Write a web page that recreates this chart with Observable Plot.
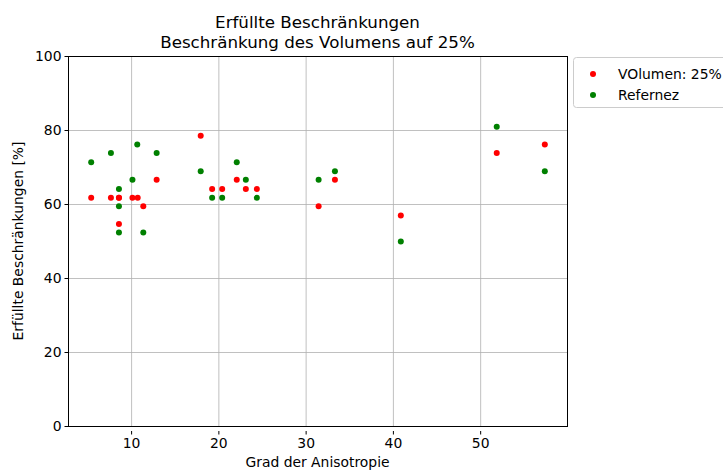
<!DOCTYPE html>
<html>
<head>
<meta charset="utf-8">
<script src="https://cdn.jsdelivr.net/npm/d3@7"></script>
<script src="https://cdn.jsdelivr.net/npm/@observablehq/plot@0.6"></script>
<style>
  html, body { margin: 0; padding: 0; background: #fff; }
  svg { display: block; }
</style>
</head>
<body>
<div id="chart"></div>
<script>
const titleLines = ["Erfüllte Beschränkungen", "Beschränkung des Volumens auf 25%"];
const xLabel = "Grad der Anisotropie";
const yLabel = "Erfüllte Beschränkungen [%]";
const seriesNames = ["VOlumen: 25%", "Refernez"];
const seriesColors = ["#ff0000", "#008000"];

const xVolumen = [5.37, 7.63, 8.55, 8.55, 8.55, 10.1, 10.7, 11.34, 12.87, 17.92, 19.23, 20.38, 22.05, 23.09, 24.35, 31.43, 33.3, 40.85, 51.84, 57.35];
const yVolumen = [61.8, 61.8, 61.8, 61.8, 54.7, 61.8, 61.8, 59.5, 66.7, 78.6, 64.2, 64.2, 66.7, 64.2, 64.2, 59.5, 66.7, 57.0, 73.9, 76.2];

const xReferenz = [5.37, 7.63, 8.55, 8.55, 8.55, 10.1, 10.65, 11.34, 12.87, 17.92, 19.23, 20.38, 22.05, 23.09, 24.35, 31.43, 33.3, 40.85, 51.84, 57.35];
const yReferenz = [71.4, 73.9, 64.2, 59.5, 52.4, 66.7, 76.2, 52.4, 73.9, 69.0, 61.8, 61.8, 71.4, 66.7, 61.8, 66.7, 69.0, 50.0, 81.0, 69.0];

const xTicks = [10, 20, 30, 40, 50];
const yTicks = [0, 20, 40, 60, 80, 100];

const volData = xVolumen.map((x, i) => ({x, y: yVolumen[i]}));
const refData = xReferenz.map((x, i) => ({x, y: yReferenz[i]}));

const W = 723, H = 470;
const mL = 68, mR = 156, mT = 56, mB = 44;
const fs = 13.9;

const plot = Plot.plot({
  width: W, height: H,
  marginLeft: mL, marginRight: mR, marginTop: mT, marginBottom: mB,
  style: {fontFamily: "DejaVu Sans, sans-serif", fontSize: fs + "px", color: "#000", background: "#fff"},
  x: {domain: [2.77, 59.95], ticks: xTicks, label: null},
  y: {domain: [0, 100], ticks: yTicks, label: null},
  marks: [
    Plot.gridX(xTicks, {stroke: "#b0b0b0", strokeOpacity: 1, strokeWidth: 0.8}),
    Plot.gridY(yTicks, {stroke: "#b0b0b0", strokeOpacity: 1, strokeWidth: 0.8}),
    Plot.axisX(xTicks, {tickSize: 3.5, tickPadding: 3.5, fontSize: fs, dy: 5, stroke: "#000"}),
    Plot.axisY(yTicks, {tickSize: 3.5, tickPadding: 3.5, fontSize: fs, stroke: "#000"}),
    Plot.dot(volData, {x: "x", y: "y", r: 3, fill: seriesColors[0], stroke: "none"}),
    Plot.dot(refData, {x: "x", y: "y", r: 3, fill: seriesColors[1], stroke: "none"}),
    Plot.frame({stroke: "#000", strokeWidth: 1})
  ]
});

const svg = d3.select(plot);
const cx = mL + (W - mL - mR) / 2;
const tg = svg.append("g").attr("font-family", "DejaVu Sans, sans-serif").attr("fill", "#000");
tg.append("text").attr("x", cx).attr("y", 28).attr("text-anchor", "middle").attr("font-size", "16.7px").text(titleLines[0]);
tg.append("text").attr("x", cx).attr("y", 48).attr("text-anchor", "middle").attr("font-size", "16.7px").text(titleLines[1]);
tg.append("text").attr("x", cx).attr("y", 467).attr("text-anchor", "middle").attr("font-size", fs + "px").text(xLabel);
tg.append("text").attr("transform", `translate(23,${mT + (H - mT - mB) / 2}) rotate(-90)`).attr("text-anchor", "middle").attr("font-size", fs + "px").text(yLabel);

// legend
const lg = svg.append("g").attr("font-family", "DejaVu Sans, sans-serif");
lg.append("rect").attr("x", 573.5).attr("y", 57.5).attr("width", 170).attr("height", 50).attr("rx", 3)
  .attr("fill", "#fff").attr("stroke", "#cccccc").attr("stroke-width", 1);
seriesNames.forEach((name, i) => {
  const yy = 74 + i * 21;
  lg.append("circle").attr("cx", 593).attr("cy", yy).attr("r", 3).attr("fill", seriesColors[i]);
  lg.append("text").attr("x", 618).attr("y", yy + 5).attr("text-anchor", "start").attr("font-size", fs + "px").attr("fill", "#000").text(name);
});

document.getElementById("chart").appendChild(plot);
</script>
</body>
</html>
